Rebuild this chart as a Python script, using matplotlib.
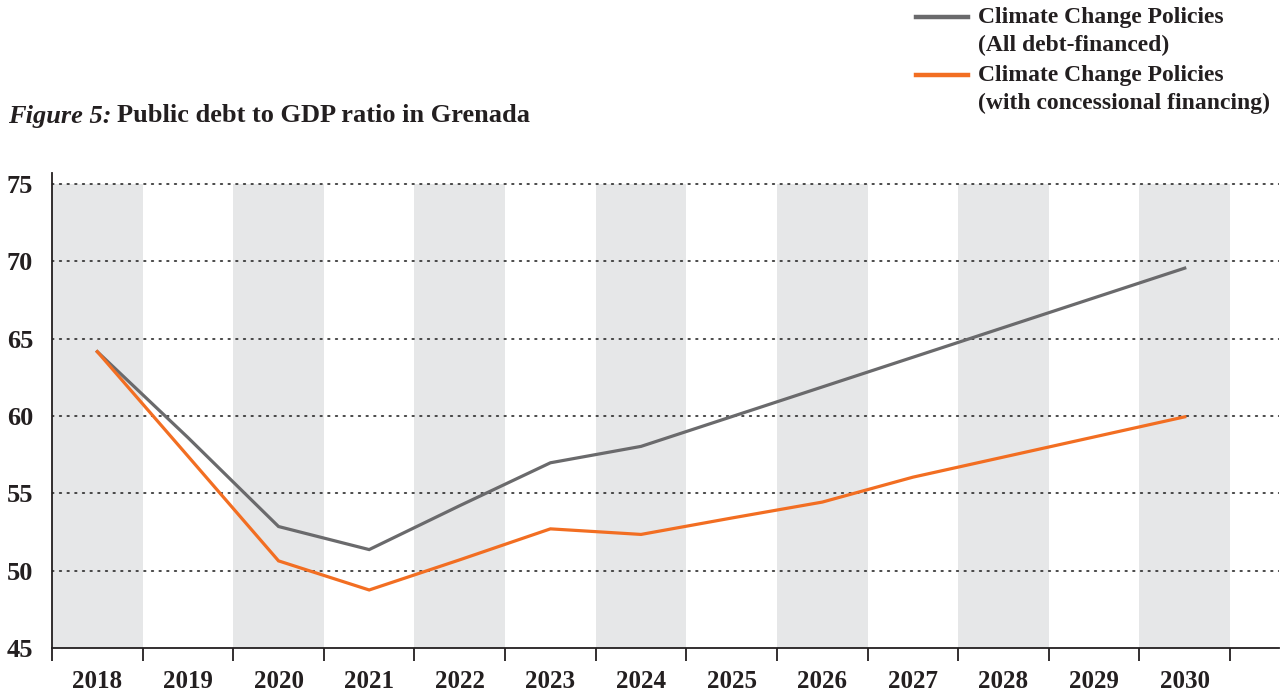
import matplotlib
matplotlib.use("Agg")
import matplotlib.pyplot as plt
from matplotlib.lines import Line2D

years = ["2018", "2019", "2020", "2021", "2022", "2023", "2024",
         "2025", "2026", "2027", "2028", "2029", "2030"]
all_debt = [64.15, 58.6, 52.85, 51.36, 54.2, 56.97, 58.03,
            59.95, 61.87, 63.79, 65.71, 67.63, 69.55]
concessional = [64.15, 57.4, 50.63, 48.75, 50.7, 52.7, 52.34,
                53.4, 54.43, 56.04, 57.34, 58.64, 59.94]
y_ticks = [45, 50, 55, 60, 65, 70, 75]
legend_labels = ["Climate Change Policies\n(All debt-financed)",
                 "Climate Change Policies\n(with concessional financing)"]

GRAY = "#6a6a6c"
ORANGE = "#f26e22"
BAND = "#e6e7e8"
TEXT = "#231f20"
FONT = "Liberation Serif"

W, H = 1286, 695
fig = plt.figure(figsize=(W / 100, H / 100), dpi=100)
ax = fig.add_axes([52 / W, 1 - 648 / H, (1279 - 52) / W, (648 - 172.5) / H])

x = list(range(len(years)))
ax.set_xlim(-0.5, 13.04)
ax.set_ylim(45, 75.73)

# alternating shaded bands
band_x = [i for i in x if i % 2 == 0]
ax.bar(band_x, [y_ticks[-1] - y_ticks[0]] * len(band_x), bottom=y_ticks[0],
       width=1.0, color=BAND, zorder=0, linewidth=0)

# dotted gridlines
for yv in y_ticks[1:]:
    ax.axhline(yv, color="#2a2a2a", linewidth=1.2, linestyle=(0, (1, 3.6)),
               zorder=1, dash_capstyle="round")

ax.plot(x, all_debt, color=GRAY, linewidth=2.3, zorder=3, solid_joinstyle="miter")
ax.plot(x, concessional, color=ORANGE, linewidth=2.3, zorder=3, solid_joinstyle="miter")

for s in ["top", "right"]:
    ax.spines[s].set_visible(False)
for s in ["left", "bottom"]:
    ax.spines[s].set_color("#231f20")
    ax.spines[s].set_linewidth(1.3)

ax.set_yticks(y_ticks)
ax.set_yticklabels([str(v) for v in y_ticks], fontfamily=FONT, fontweight="bold",
                   fontsize=19, color=TEXT)
ax.tick_params(axis="y", length=0, pad=13.5)

ax.set_xticks([i - 0.5 for i in range(len(years) + 1)])
ax.set_xticklabels([])
ax.tick_params(axis="x", which="major", length=9, width=1.3, color="#231f20", direction="out")
ax.set_xticks(x, minor=True)
ax.set_xticklabels(years, minor=True, fontfamily=FONT, fontweight="bold",
                   fontsize=18, color=TEXT)
ax.tick_params(axis="x", which="minor", length=0, pad=16)

# title
t1 = fig.text(8 / W, 1 - 116 / H, "Figure 5:", fontfamily=FONT, fontweight="bold",
              fontstyle="italic", fontsize=19, color=TEXT, va="center", ha="left")
ax.annotate("Public debt to GDP ratio in Grenada", xy=(1, 0.5), xycoords=t1,
            xytext=(4, 0), textcoords="offset points", fontfamily=FONT,
            fontweight="bold", fontsize=19, color=TEXT, va="center", ha="left",
            annotation_clip=False)

# legend
for lbl, col, ytop in zip(legend_labels, [GRAY, ORANGE], [17, 75]):
    fig.add_artist(Line2D([916 / W, 968 / W], [1 - ytop / H, 1 - ytop / H],
                          color=col, linewidth=3.2, transform=fig.transFigure))
    fig.text(978 / W, 1 - (ytop - 10) / H, lbl, fontfamily=FONT, fontweight="bold",
             fontsize=17, color=TEXT, va="top", ha="left", linespacing=1.45)

fig.savefig("out.png", dpi=100)
